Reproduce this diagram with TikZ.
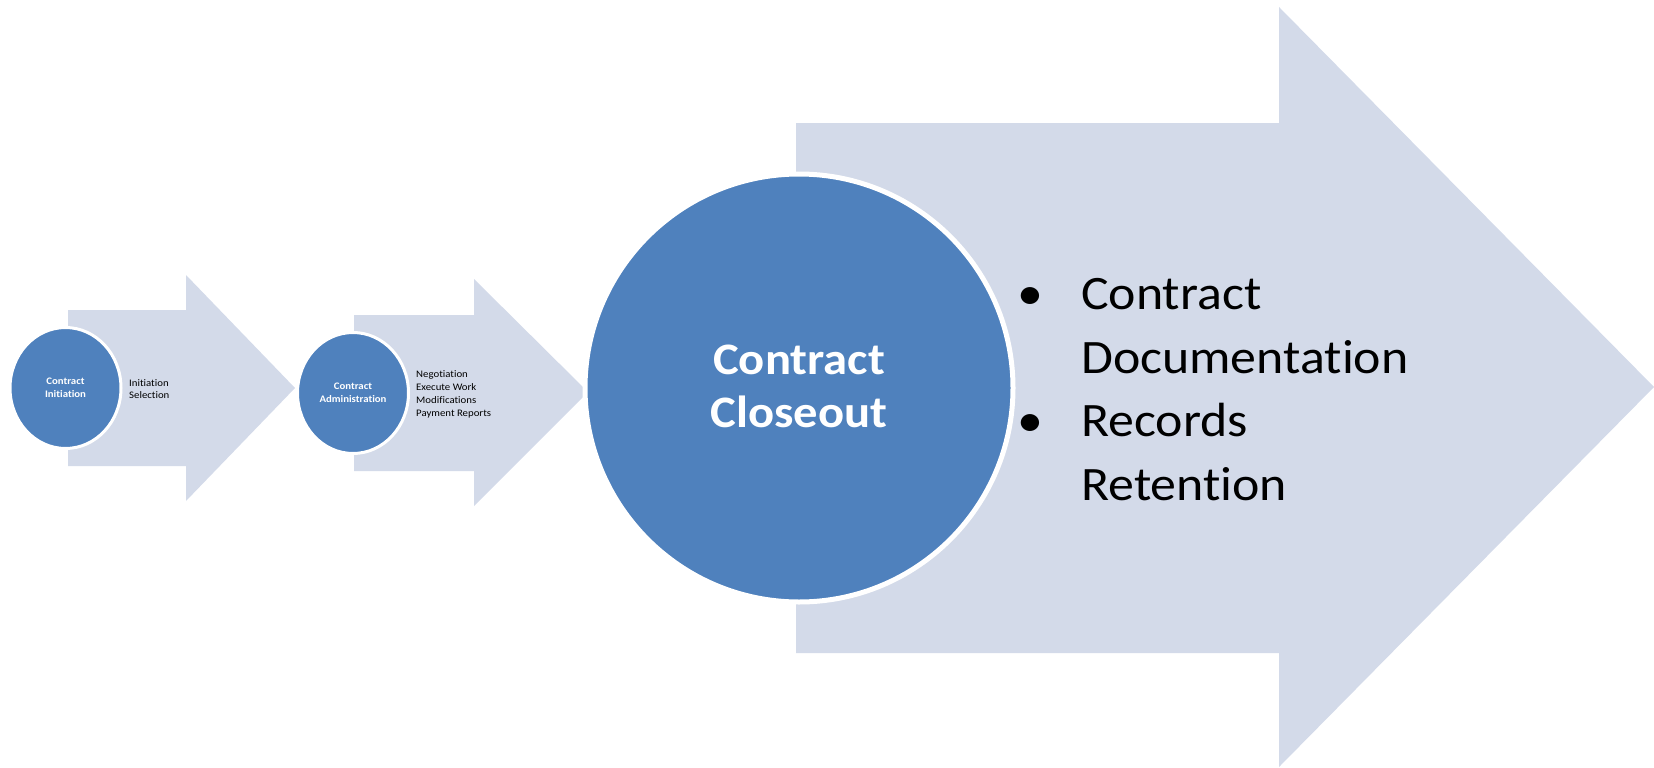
\documentclass[tikz,border=0pt]{standalone}
\usepackage{fontspec}
\setmainfont{Carlito}[FakeStretch=1.08, RawFeature={-liga}]
\usetikzlibrary{shapes.geometric}
\definecolor{arrowfill}{HTML}{D3DAE9}
\definecolor{circblue}{HTML}{4F81BD}
\tikzset{
  arrowshape/.style={fill=arrowfill, draw=none},
  smallcirc/.style={ellipse, fill=circblue, draw=white, line width=3pt, inner sep=0pt, minimum width=111pt, minimum height=121pt},
  bigcirc/.style={circle, fill=circblue, draw=white, line width=5pt, inner sep=0pt, minimum size=428pt},
  smallwhite/.style={text=white, font=\fontsize{10}{12.5}\selectfont\bfseries, align=center, inner sep=0pt},
  smalllist/.style={text=black, font=\fontsize{10}{13}\selectfont, anchor=base west, inner sep=0pt},
  bigwhite/.style={text=white, font=\fontsize{45}{53}\selectfont\bfseries, align=center, inner sep=0pt},
  biglist/.style={text=black, font=\fontsize{48}{64}\selectfont, anchor=base west, inner sep=0pt},
}
\begin{document}
\begin{tikzpicture}[x=1pt, y=-1pt]
\useasboundingbox (0,0) rectangle (1654,768);
% arrows
\fill[arrowshape] (68,310) -- (186,310) -- (186,275) -- (295,388) -- (186,501) -- (186,466) -- (68,466) -- cycle;
\node[smallcirc] (c1) at (65.5,388) {};
\node[smallwhite] (t1) at (65.5,388) {Contract\\Initiation};
\node[smalllist] (l1a) at (129,386) {Initiation};
\node[smalllist] (l1b) at (129,398.5) {Selection};

\fill[arrowshape] (354,315) -- (474,315) -- (474,279) -- (588,392) -- (474,506) -- (474,471) -- (354,471) -- cycle;
\node[smallcirc] (c2) at (353,393) {};
\node[smallwhite] (t2) at (353,393) {Contract\\Administration};
\node[smalllist] (l2a) at (416,377) {Negotiation};
\node[smalllist] (l2b) at (416,390) {Execute Work};
\node[smalllist] (l2c) at (416,403) {Modifications};
\node[smalllist] (l2d) at (416,416) {Payment Reports};

\fill[arrowshape] (796,123) -- (1279,123) -- (1279,7) -- (1654,387) -- (1279,767) -- (1279,653) -- (796,653) -- cycle;
\node[bigcirc] (c3) at (799,388) {};
\node[bigwhite] (t3) at (799,386) {Contract\\Closeout};

\node[biglist] (b1) at (1017,309) {•};
\node[biglist] (r1a) at (1081,309) {Contract};
\node[biglist] (r1b) at (1081,373) {Documentation};
\node[biglist] (b2) at (1017,436) {•};
\node[biglist] (r2a) at (1081,436) {Records};
\node[biglist] (r2b) at (1081,500) {Retention};
\end{tikzpicture}
\end{document}
